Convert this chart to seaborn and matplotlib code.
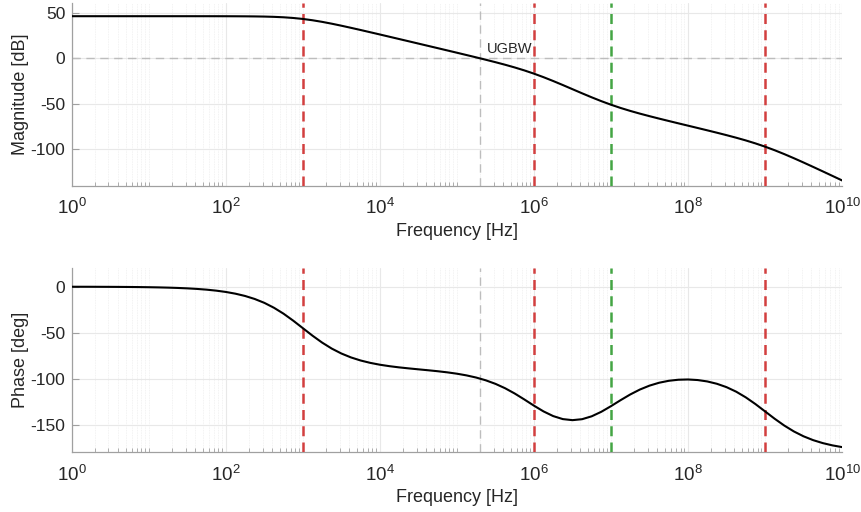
import numpy as np
import pandas as pd
import matplotlib
matplotlib.use("Agg")
import matplotlib.pyplot as plt
import seaborn as sns
from matplotlib.ticker import FixedLocator, LogLocator, NullFormatter

# ---- data (log10 of frequency, magnitude, phase) ----
freq_exp = [0.0, 0.125, 0.25, 0.375, 0.5, 0.625, 0.75, 0.875,
            1.0, 1.125, 1.25, 1.375, 1.5, 1.625, 1.75, 1.875,
            2.0, 2.125, 2.25, 2.375, 2.5, 2.625, 2.75, 2.875,
            3.0, 3.125, 3.25, 3.375, 3.5, 3.625, 3.75, 3.875,
            4.0, 4.125, 4.25, 4.375, 4.5, 4.625, 4.75, 4.875,
            5.0, 5.125, 5.25, 5.375, 5.5, 5.625, 5.75, 5.875,
            6.0, 6.125, 6.25, 6.375, 6.5, 6.625, 6.75, 6.875,
            7.0, 7.125, 7.25, 7.375, 7.5, 7.625, 7.75, 7.875,
            8.0, 8.125, 8.25, 8.375, 8.5, 8.625, 8.75, 8.875,
            9.0, 9.125, 9.25, 9.375, 9.5, 9.625, 9.75, 9.875,
            10.0]
magnitude_db = [46.00, 46.00, 46.00, 46.00, 46.00, 46.00, 46.00, 46.00,
                46.00, 46.00, 46.00, 46.00, 46.00, 45.99, 45.99, 45.98,
                45.96, 45.92, 45.86, 45.76, 45.59, 45.29, 44.81, 44.06,
                42.99, 41.56, 39.81, 37.79, 35.59, 33.26, 30.87, 28.42,
                25.96, 23.47, 20.98, 18.49, 15.99, 13.49, 10.99, 8.48,
                5.96, 3.42, 0.87, -1.74, -4.41, -7.20, -10.18, -13.41,
                -16.97, -20.86, -25.06, -29.47, -34.00, -38.53, -42.94, -47.14,
                -51.03, -54.59, -57.82, -60.80, -63.59, -66.27, -68.88, -71.45,
                -74.00, -76.55, -79.12, -81.73, -84.41, -87.21, -90.19, -93.44,
                -97.01, -100.94, -105.19, -109.71, -114.41, -119.24, -124.14, -129.08,
                -134.04]
phase_deg = [-0.06, -0.08, -0.10, -0.14, -0.18, -0.24, -0.32, -0.43,
             -0.57, -0.76, -1.02, -1.36, -1.81, -2.42, -3.22, -4.29,
             -5.71, -7.60, -10.08, -13.35, -17.55, -22.89, -29.36, -36.91,
             -45.05, -53.20, -60.73, -67.25, -72.61, -76.88, -80.21, -82.79,
             -84.81, -86.40, -87.70, -88.80, -89.82, -90.82, -91.88, -93.10,
             -94.57, -96.41, -98.75, -101.76, -105.58, -110.34, -116.07, -122.54,
             -129.29, -135.57, -140.63, -143.91, -145.06, -144.02, -140.87, -135.96,
             -129.86, -123.34, -117.16, -111.81, -107.55, -104.40, -102.28, -101.13,
             -100.85, -101.46, -102.98, -105.52, -109.18, -114.09, -120.28, -127.55,
             -135.51, -143.52, -150.93, -157.35, -162.61, -166.79, -170.01, -172.48,
             -174.35]
pole_freqs = [1e3, 1e6, 1e9]
zero_freqs = [1e7]
ugbw_freq = 2.0e5
xtick_exps = [0, 2, 4, 6, 8, 10]
mag_yticks = [-100, -50, 0, 50]
phase_yticks = [-150, -100, -50, 0]

df = pd.DataFrame({"freq": 10 ** np.array(freq_exp),
                   "mag": magnitude_db, "phase": phase_deg})

sns.set_theme(style="white")
plt.rcParams["font.family"] = ["Liberation Sans", "DejaVu Sans"]
plt.rcParams["axes.unicode_minus"] = False

RED = "#d23f3f"
GREEN = "#44a544"
GREY = "#bdbdbd"
TXT = "#262626"

fig = plt.figure(figsize=(8.61, 5.12), dpi=100)
ax1 = fig.add_axes([0.0833, 0.637, 0.8947, 0.3563])
ax2 = fig.add_axes([0.0833, 0.1166, 0.8947, 0.3594])

def style(ax, ylim, yticks):
    ax.set_xscale("log")
    ax.set_xlim(1, 1e10)
    ax.set_ylim(*ylim)
    ax.xaxis.set_major_locator(FixedLocator([10.0 ** e for e in xtick_exps]))
    ax.xaxis.set_minor_locator(LogLocator(base=10, subs=np.arange(1, 10), numticks=100))
    ax.xaxis.set_minor_formatter(NullFormatter())
    ax.set_yticks(yticks)
    ax.grid(True, which="major", color="#e8e8e8", lw=0.8)
    ax.grid(True, which="minor", axis="x", color="#eeeeee", lw=0.6, ls=(0, (1, 1)))
    ax.set_axisbelow(True)
    for s in ["top", "right"]:
        ax.spines[s].set_visible(False)
    for s in ["left", "bottom"]:
        ax.spines[s].set_color("#a0a0a0")
        ax.spines[s].set_linewidth(0.9)
    ax.tick_params(axis="both", which="major", direction="in", length=5,
                   width=0.8, color="#a0a0a0", labelcolor=TXT)
    ax.tick_params(axis="x", which="major", labelsize=13.5, pad=9)
    ax.tick_params(axis="y", which="major", labelsize=12.5, pad=4.5, left=True)
    ax.tick_params(axis="x", which="minor", direction="in", length=3,
                   width=0.6, color="#a0a0a0", bottom=True)
    for f in pole_freqs:
        ax.axvline(f, color=RED, lw=1.8, ls=(0, (4, 2.5)), zorder=3)
    for f in zero_freqs:
        ax.axvline(f, color=GREEN, lw=1.8, ls=(0, (4, 2.5)), zorder=3)
    ax.axvline(ugbw_freq, color=GREY, lw=1.0, ls=(0, (6, 4)), zorder=2)

style(ax1, (-140, 60), mag_yticks)
ax1.axhline(0, color=GREY, lw=1.0, ls=(0, (6, 4)), zorder=2)
sns.lineplot(data=df, x="freq", y="mag", ax=ax1, color="black", lw=1.5, zorder=4)
ax1.set_xlabel("Frequency [Hz]", fontsize=13, color=TXT, labelpad=3)
ax1.set_ylabel("Magnitude [dB]", fontsize=13, color=TXT, labelpad=1.5)
ax1.text(2.45e5, 2.5, "UGBW", fontsize=10.5, color=TXT, ha="left", va="bottom")

style(ax2, (-180, 20), phase_yticks)
sns.lineplot(data=df, x="freq", y="phase", ax=ax2, color="black", lw=1.5, zorder=4)
ax2.set_xlabel("Frequency [Hz]", fontsize=13, color=TXT, labelpad=3)
ax2.set_ylabel("Phase [deg]", fontsize=13, color=TXT, labelpad=1.5)

fig.savefig("out.png", dpi=100)
